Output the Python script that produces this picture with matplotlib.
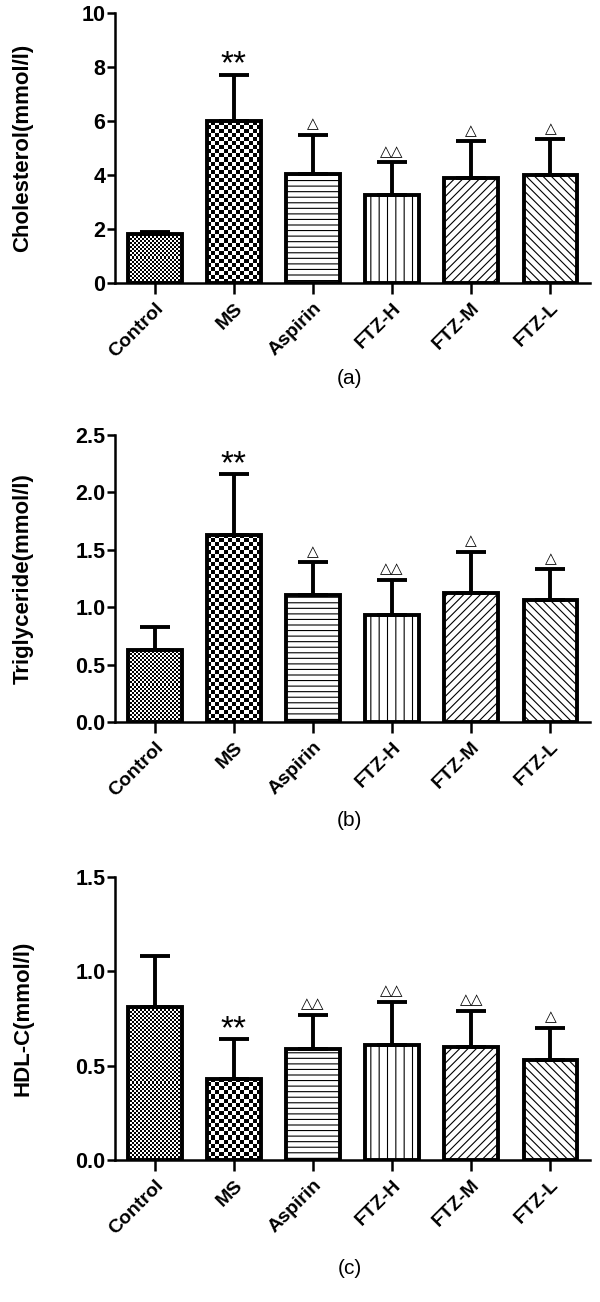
import numpy as np
import matplotlib
matplotlib.use("Agg")
import matplotlib.pyplot as plt
from matplotlib.ticker import FormatStrFormatter

groups = ["Control", "MS", "Aspirin", "FTZ-H", "FTZ-M", "FTZ-L"]

chol_mean = [1.80, 6.00, 4.05, 3.25, 3.90, 4.00]
chol_err = [0.10, 1.72, 1.45, 1.22, 1.35, 1.32]
chol_mark = ["", "**", "△", "△△", "△", "△"]

tg_mean = [0.63, 1.63, 1.11, 0.93, 1.12, 1.06]
tg_err = [0.20, 0.53, 0.28, 0.31, 0.36, 0.27]
tg_mark = ["", "**", "△", "△△", "△", "△"]

hdl_mean = [0.81, 0.43, 0.59, 0.61, 0.60, 0.53]
hdl_err = [0.27, 0.21, 0.18, 0.23, 0.19, 0.17]
hdl_mark = ["", "**", "△△", "△△", "△△", "△"]

# fill style per group: (kind, value)
fills = [("checker", 2), ("checker", 4), ("hatch", "---"),
         ("hatch", "||"), ("hatch", "////"), ("hatch", "\\\\\\\\")]

plt.rcParams["font.family"] = ["Liberation Sans", "DejaVu Sans"]
plt.rcParams["hatch.linewidth"] = 0.8

W, H = 600, 1302
fig = plt.figure(figsize=(W / 100, H / 100), dpi=100)


def add_checker(ax, patch, cell):
    x0, y0 = patch.get_x(), patch.get_y()
    x1, y1 = x0 + patch.get_width(), y0 + patch.get_height()
    p0 = ax.transData.transform((x0, y0))
    p1 = ax.transData.transform((x1, y1))
    nx = max(1, int(round(abs(p1[0] - p0[0]) / cell)))
    ny = max(1, int(round(abs(p1[1] - p0[1]) / cell)))
    arr = np.add.outer(np.arange(ny), np.arange(nx)) % 2
    im = ax.imshow(arr, extent=(x0, x1, y0, y1), cmap="gray", origin="lower",
                   interpolation="nearest", aspect="auto", zorder=1.5)
    im.set_clip_path(patch)


def panel(rect, means, errs, marks, ylim, yticks, yfmt, ylabel, tag, tag_y):
    ax = fig.add_axes(rect)
    x = np.arange(len(groups))
    ax.set_xlim(-0.5, 5.5)
    ax.set_ylim(*ylim)
    bars = ax.bar(x, means, width=0.68, color="white", edgecolor="black",
                  linewidth=0, zorder=1)
    for b, (kind, val) in zip(bars, fills):
        if kind == "checker":
            add_checker(ax, b, val)
        else:
            b.set_hatch(val)
    ax.bar(x, means, width=0.68, fill=False, edgecolor="black",
           linewidth=2.8, zorder=3)
    ax.errorbar(x, means, yerr=[np.zeros(len(means)), errs], fmt="none",
                ecolor="black", elinewidth=2.8, capsize=11, capthick=2.8,
                zorder=2.5)
    ax.set_xlim(-0.5, 5.5)
    ax.set_ylim(*ylim)
    span = ylim[1] - ylim[0]
    for xi, m, e, t in zip(x, means, errs, marks):
        if not t:
            continue
        if t == "**":
            ax.text(xi, m + e - span * 0.02, t, ha="center", va="bottom",
                    fontsize=24)
        else:
            ax.text(xi, m + e + span * 0.012, t, ha="center", va="bottom",
                    fontsize=11, family=["DejaVu Sans"])
    ax.set_yticks(yticks)
    ax.yaxis.set_major_formatter(FormatStrFormatter(yfmt))
    ax.set_xticks(x)
    ax.set_xticklabels(groups, rotation=45, ha="right", rotation_mode="anchor",
                       fontsize=14, fontweight="bold")
    for lab in ax.get_yticklabels():
        lab.set_fontweight("bold")
        lab.set_fontsize(15.5)
    ax.tick_params(axis="both", width=1.8, direction="out")
    ax.tick_params(axis="y", length=6, pad=1)
    ax.tick_params(axis="x", length=8, pad=4)
    for s in ["top", "right"]:
        ax.spines[s].set_visible(False)
    for s in ["left", "bottom"]:
        ax.spines[s].set_linewidth(1.8)
    ax.set_ylabel(ylabel, fontsize=16, fontweight="bold")
    ax.yaxis.set_label_coords(-0.172, 0.5)
    fig.text(0.583, tag_y, tag, ha="center", va="center", fontsize=15)
    return ax


panel([115 / W, 1 - 283 / H, 475 / W, 270 / H], chol_mean, chol_err, chol_mark,
      (0, 10), [0, 2, 4, 6, 8, 10], "%d", "Cholesterol(mmol/l)", "(a)",
      1 - 378 / H)
panel([115 / W, 1 - 722 / H, 475 / W, 287 / H], tg_mean, tg_err, tg_mark,
      (0, 2.5), [0.0, 0.5, 1.0, 1.5, 2.0, 2.5], "%.1f", "Triglyceride(mmol/l)",
      "(b)", 1 - 820 / H)
panel([115 / W, 1 - 1160 / H, 475 / W, 283 / H], hdl_mean, hdl_err, hdl_mark,
      (0, 1.5), [0.0, 0.5, 1.0, 1.5], "%.1f", "HDL-C(mmol/l)", "(c)",
      1 - 1268 / H)

fig.savefig("out.png", dpi=100, facecolor="white")
